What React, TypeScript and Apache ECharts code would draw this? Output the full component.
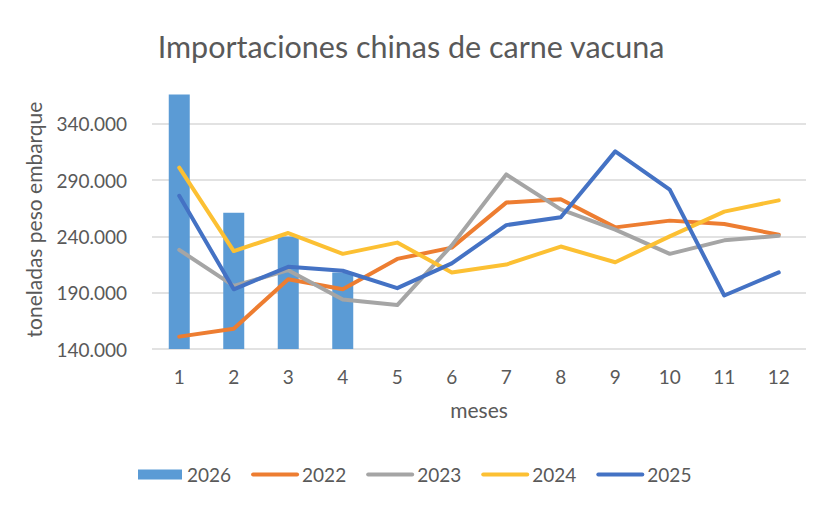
import React, { useEffect, useRef } from "react";
import * as echarts from "echarts";

const months = ["1", "2", "3", "4", "5", "6", "7", "8", "9", "10", "11", "12"];
const y2026 = [366000, 261000, 240000, 208000];
const y2022 = [151000, 158000, 202000, 193000, 220000, 230000, 270000, 273000, 248000, 254000, 251000, 241500];
const y2023 = [228000, 196000, 210000, 184000, 179000, 232000, 295000, 264000, 246000, 224500, 236500, 240500];
const y2024 = [301000, 227000, 243000, 224500, 234500, 208000, 215000, 231000, 217000, 240000, 262000, 272000];
const y2025 = [276000, 193000, 213000, 209500, 194000, 216000, 250000, 257000, 315500, 281500, 187500, 208000];

const FONT = "Lato";
const GREY = "#595959";

const fmt = (v: number) =>
  String(Math.round(v)).replace(/\B(?=(\d{3})+(?!\d))/g, ".");

const App: React.FC = () => {
  const chartRef = useRef<HTMLDivElement>(null);

  useEffect(() => {
    document.body.style.margin = "0";
    const chart = echarts.init(chartRef.current!, undefined, { renderer: "svg" });
    const line = (name: string, data: number[], color: string) => ({
      name,
      type: "line",
      data,
      symbol: "none",
      color,
      itemStyle: { color, opacity: 0 },
      lineStyle: { width: 4, color, cap: "round", join: "round" },
      z: 3,
    });
    const options = {
      animation: false,
      backgroundColor: "#ffffff",
      textStyle: { fontFamily: FONT, color: GREY },
      title: {
        text: "Importaciones chinas de carne vacuna",
        left: 406,
        top: 25,
        textAlign: "center",
        textStyle: { fontFamily: FONT, fontSize: 30.5, fontWeight: "normal", color: GREY },
      },
      grid: { left: 152, right: 18, top: 90, bottom: 170 },
      legend: {
        left: 133,
        top: 460,
        itemWidth: 44,
        itemHeight: 10,
        itemGap: 20,
        lineStyle: { width: 4, cap: "round" },
        textStyle: { fontFamily: FONT, fontSize: 19, color: GREY },
        data: [
          { name: "2026", icon: "rect" },
          "2022",
          "2023",
          "2024",
          "2025",
        ],
      },
      xAxis: {
        type: "category",
        data: months,
        name: "meses",
        nameLocation: "middle",
        nameGap: 50,
        nameTextStyle: { fontFamily: FONT, fontSize: 21, color: GREY },
        axisLine: { show: false },
        axisTick: { show: false },
        axisLabel: { margin: 18, fontFamily: FONT, fontSize: 19, color: GREY },
      },
      yAxis: {
        type: "value",
        min: 140000,
        max: 370000,
        interval: 50000,
        name: "toneladas peso embarque",
        nameLocation: "middle",
        nameGap: 108,
        nameTextStyle: { fontFamily: FONT, fontSize: 21, color: GREY },
        axisLine: { show: false },
        axisTick: { show: false },
        axisLabel: {
          margin: 25,
          fontFamily: FONT,
          fontSize: 19,
          color: GREY,
          showMaxLabel: false,
          formatter: (v: number) => ((v - 140000) % 50000 === 0 ? fmt(v) : ""),
        },
        splitLine: {
          lineStyle: {
            width: 1.5,
            color: ["#d9d9d9", "#d9d9d9", "#d9d9d9", "#d9d9d9", "#d9d9d9", "transparent"],
          },
        },
      },
      series: [
        {
          name: "2026",
          type: "bar",
          data: y2026,
          barWidth: 21,
          color: "#5b9bd5",
          itemStyle: { color: "#5b9bd5" },
          z: 2,
        },
        line("2022", y2022, "#ed7d31"),
        line("2023", y2023, "#a5a5a5"),
        line("2024", y2024, "#fcc033"),
        line("2025", y2025, "#4472c4"),
      ],
    };
    chart.setOption(options as any);

    return () => {
      chart.dispose();
    };
  }, []);

  return <div ref={chartRef} style={{ width: 824, height: 519 }}></div>;
};

export default App;
